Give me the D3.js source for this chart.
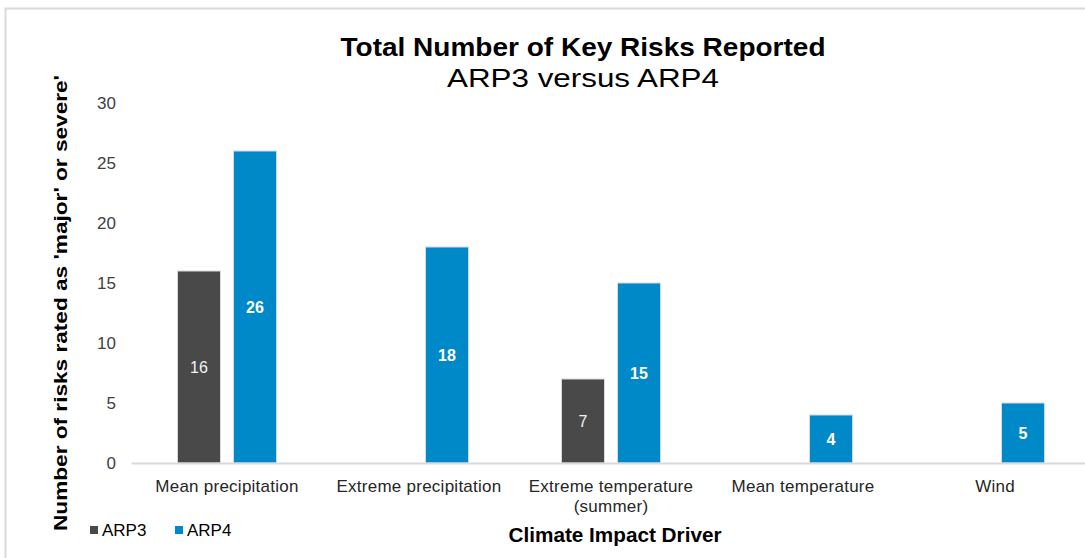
<!DOCTYPE html>
<html>
<head>
<meta charset="utf-8">
<script src="https://cdn.jsdelivr.net/npm/d3@7"></script>
<style>
  html, body { margin: 0; padding: 0; background: #fff; }
  svg { display: block; font-family: "Liberation Sans", Arial, sans-serif; }
</style>
</head>
<body>
<svg id="chart" width="1085" height="558"></svg>
<script>
// Climate impact drivers and the number of key risks rated 'major' or 'severe'
const categories = [
  ["Mean precipitation"],
  ["Extreme precipitation"],
  ["Extreme temperature", "(summer)"],
  ["Mean temperature"],
  ["Wind"]
];
const categoryKeys = ["Mean precipitation", "Extreme precipitation", "Extreme temperature (summer)", "Mean temperature", "Wind"];
const seriesNames = ["ARP3", "ARP4"];
const arp3Values = [16, 0, 7, 0, 0];
const arp4Values = [26, 18, 15, 4, 5];
const yTicks = [0, 5, 10, 15, 20, 25, 30];

const colors = { ARP3: "#494949", ARP4: "#0089c9" };

const svg = d3.select("#chart");

// chart frame
svg.append("rect")
  .attr("x", 5.5).attr("y", 8.5)
  .attr("width", 1100).attr("height", 600)
  .attr("fill", "#fff")
  .attr("stroke", "#d9d9d9").attr("stroke-width", 2);

const plot = { left: 131, right: 1091, top: 103, bottom: 463 };

const x = d3.scaleBand()
  .domain(categoryKeys)
  .range([plot.left, plot.right])
  .padding(0);

const groupWidth = x.bandwidth() * 0.516;
const xSub = d3.scaleBand()
  .domain(seriesNames)
  .range([(x.bandwidth() - groupWidth) / 2, (x.bandwidth() + groupWidth) / 2])
  .paddingInner(0.232)
  .paddingOuter(0);

const y = d3.scaleLinear()
  .domain([0, 30])
  .range([plot.bottom, plot.top]);

// titles
svg.append("text")
  .attr("x", 583).attr("y", 56)
  .attr("text-anchor", "middle")
  .attr("font-size", 26).attr("font-weight", "bold")
  .attr("fill", "#000")
  .attr("textLength", 485)
  .attr("lengthAdjust", "spacingAndGlyphs")
  .text("Total Number of Key Risks Reported");
svg.append("text")
  .attr("x", 583).attr("y", 87)
  .attr("text-anchor", "middle")
  .attr("font-size", 26)
  .attr("fill", "#000")
  .attr("textLength", 272)
  .attr("lengthAdjust", "spacingAndGlyphs")
  .text("ARP3 versus ARP4");

// y axis (labels only)
const yAxis = d3.axisLeft(y).tickValues(yTicks).tickSize(0).tickPadding(0);
const gy = svg.append("g")
  .attr("transform", `translate(116,0)`)
  .call(yAxis);
gy.select(".domain").remove();
gy.selectAll("text")
  .attr("font-size", 17)
  .attr("font-family", "Liberation Sans, Arial, sans-serif")
  .attr("fill", "#404040");

// y axis title
svg.append("text")
  .attr("transform", `translate(67,${(75 + 531) / 2}) rotate(-90)`)
  .attr("text-anchor", "middle")
  .attr("font-size", 19).attr("font-weight", "bold")
  .attr("fill", "#000")
  .attr("textLength", 456)
  .attr("lengthAdjust", "spacingAndGlyphs")
  .text("Number of risks rated as 'major' or severe'");

// bars
const rows = categoryKeys.map((k, i) => ({
  key: k,
  values: [
    { series: "ARP3", value: arp3Values[i] },
    { series: "ARP4", value: arp4Values[i] }
  ]
}));

const groups = svg.append("g").selectAll("g")
  .data(rows)
  .join("g")
  .attr("transform", d => `translate(${x(d.key)},0)`);

const barData = d => d.values.filter(v => v.value > 0);

groups.selectAll("rect")
  .data(barData)
  .join("rect")
  .attr("x", d => xSub(d.series))
  .attr("y", d => y(d.value))
  .attr("width", xSub.bandwidth())
  .attr("height", d => y(0) - y(d.value))
  .attr("fill", d => colors[d.series])
  .attr("stroke", "#d9d9d9")
  .attr("stroke-width", 1);

groups.selectAll("text.value")
  .data(barData)
  .join("text")
  .attr("class", "value")
  .attr("x", d => xSub(d.series) + xSub.bandwidth() / 2)
  .attr("y", d => (y(d.value) + y(0)) / 2)
  .attr("dy", "0.35em")
  .attr("text-anchor", "middle")
  .attr("font-size", 16)
  .attr("font-weight", d => d.series === "ARP4" ? "bold" : "normal")
  .attr("fill", d => d.series === "ARP4" ? "#ffffff" : "#f2f2f2")
  .text(d => d.value);

// x axis
const xAxis = d3.axisBottom(x).tickSize(0).tickFormat(() => "");
const gx = svg.append("g")
  .attr("transform", `translate(0,${plot.bottom})`)
  .call(xAxis);
gx.select(".domain")
  .attr("stroke", "#d9d9d9").attr("stroke-width", 2);

// category labels (may wrap to two lines)
const catLabels = svg.append("g").selectAll("text")
  .data(categoryKeys)
  .join("text")
  .attr("x", d => x(d) + x.bandwidth() / 2)
  .attr("y", 492)
  .attr("text-anchor", "middle")
  .attr("font-size", 17)
  .attr("letter-spacing", 0.25)
  .attr("fill", "#262626");
catLabels.each(function (d, i) {
  const t = d3.select(this);
  categories[i].forEach((line, j) => {
    t.append("tspan")
      .attr("x", x(d) + x.bandwidth() / 2)
      .attr("dy", j === 0 ? 0 : 20)
      .text(line);
  });
});

// x axis title
svg.append("text")
  .attr("x", 615).attr("y", 542)
  .attr("text-anchor", "middle")
  .attr("font-size", 20).attr("font-weight", "bold")
  .attr("fill", "#000")
  .attr("textLength", 213)
  .attr("lengthAdjust", "spacingAndGlyphs")
  .text("Climate Impact Driver");

// legend
const legendX = [90, 175];
const legend = svg.append("g").selectAll("g")
  .data(seriesNames)
  .join("g")
  .attr("transform", (d, i) => `translate(${legendX[i]},526)`);
legend.append("rect")
  .attr("width", 8).attr("height", 8)
  .attr("fill", d => colors[d]);
legend.append("text")
  .attr("x", 12).attr("y", 4)
  .attr("dy", "0.35em")
  .attr("font-size", 17)
  .attr("fill", "#000")
  .text(d => d);
</script>
</body>
</html>
